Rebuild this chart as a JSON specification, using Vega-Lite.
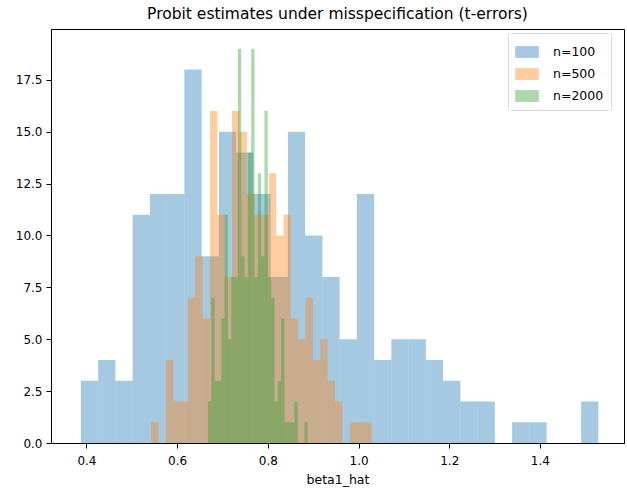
{
  "$schema": "https://vega.github.io/schema/vega-lite/v6.json",
  "width": 573,
  "height": 414,
  "autosize": "none",
  "padding": {"left": 51, "top": 29, "right": 3, "bottom": 47},
  "title": {"text": "Probit estimates under misspecification (t-errors)", "fontSize": 15.5, "fontWeight": "normal", "font": "DejaVu Sans", "color": "black", "offset": 7},
  "config": {
    "font": "DejaVu Sans",
    "view": {"stroke": "black", "strokeWidth": 1},
    "axis": {"domainColor": "black", "tickColor": "black", "labelColor": "black", "titleColor": "black", "tickSize": 5, "labelFontSize": 12, "titleFontSize": 12.5, "titleFontWeight": "normal", "grid": false, "labelPadding": 4}
  },
  "data": {"values": [
    {"n": "n=100", "x0": 0.3877, "x1": 0.4257, "count": 3},
    {"n": "n=100", "x0": 0.4257, "x1": 0.4638, "count": 4},
    {"n": "n=100", "x0": 0.4638, "x1": 0.5018, "count": 3},
    {"n": "n=100", "x0": 0.5018, "x1": 0.5399, "count": 11},
    {"n": "n=100", "x0": 0.5399, "x1": 0.5779, "count": 12},
    {"n": "n=100", "x0": 0.5779, "x1": 0.6159, "count": 12},
    {"n": "n=100", "x0": 0.6159, "x1": 0.6540, "count": 18},
    {"n": "n=100", "x0": 0.6540, "x1": 0.6920, "count": 9},
    {"n": "n=100", "x0": 0.6920, "x1": 0.7301, "count": 15},
    {"n": "n=100", "x0": 0.7301, "x1": 0.7681, "count": 14},
    {"n": "n=100", "x0": 0.7681, "x1": 0.8061, "count": 12},
    {"n": "n=100", "x0": 0.8061, "x1": 0.8442, "count": 8},
    {"n": "n=100", "x0": 0.8442, "x1": 0.8822, "count": 15},
    {"n": "n=100", "x0": 0.8822, "x1": 0.9203, "count": 10},
    {"n": "n=100", "x0": 0.9203, "x1": 0.9583, "count": 8},
    {"n": "n=100", "x0": 0.9583, "x1": 0.9963, "count": 5},
    {"n": "n=100", "x0": 0.9963, "x1": 1.0344, "count": 12},
    {"n": "n=100", "x0": 1.0344, "x1": 1.0724, "count": 4},
    {"n": "n=100", "x0": 1.0724, "x1": 1.1105, "count": 5},
    {"n": "n=100", "x0": 1.1105, "x1": 1.1485, "count": 5},
    {"n": "n=100", "x0": 1.1485, "x1": 1.1865, "count": 4},
    {"n": "n=100", "x0": 1.1865, "x1": 1.2246, "count": 3},
    {"n": "n=100", "x0": 1.2246, "x1": 1.2626, "count": 2},
    {"n": "n=100", "x0": 1.2626, "x1": 1.3007, "count": 2},
    {"n": "n=100", "x0": 1.3387, "x1": 1.3767, "count": 1},
    {"n": "n=100", "x0": 1.3767, "x1": 1.4148, "count": 1},
    {"n": "n=100", "x0": 1.4909, "x1": 1.5289, "count": 2},
    {"n": "n=500", "x0": 0.5427, "x1": 0.5589, "count": 1},
    {"n": "n=500", "x0": 0.5751, "x1": 0.5913, "count": 4},
    {"n": "n=500", "x0": 0.5913, "x1": 0.6075, "count": 2},
    {"n": "n=500", "x0": 0.6075, "x1": 0.6238, "count": 2},
    {"n": "n=500", "x0": 0.6238, "x1": 0.6400, "count": 7},
    {"n": "n=500", "x0": 0.6400, "x1": 0.6562, "count": 9},
    {"n": "n=500", "x0": 0.6562, "x1": 0.6724, "count": 6},
    {"n": "n=500", "x0": 0.6724, "x1": 0.6886, "count": 16},
    {"n": "n=500", "x0": 0.6886, "x1": 0.7048, "count": 11},
    {"n": "n=500", "x0": 0.7048, "x1": 0.7210, "count": 8},
    {"n": "n=500", "x0": 0.7210, "x1": 0.7372, "count": 16},
    {"n": "n=500", "x0": 0.7372, "x1": 0.7534, "count": 15},
    {"n": "n=500", "x0": 0.7534, "x1": 0.7696, "count": 12},
    {"n": "n=500", "x0": 0.7696, "x1": 0.7859, "count": 11},
    {"n": "n=500", "x0": 0.7859, "x1": 0.8021, "count": 11},
    {"n": "n=500", "x0": 0.8021, "x1": 0.8183, "count": 13},
    {"n": "n=500", "x0": 0.8183, "x1": 0.8345, "count": 10},
    {"n": "n=500", "x0": 0.8345, "x1": 0.8507, "count": 11},
    {"n": "n=500", "x0": 0.8507, "x1": 0.8669, "count": 6},
    {"n": "n=500", "x0": 0.8669, "x1": 0.8831, "count": 5},
    {"n": "n=500", "x0": 0.8831, "x1": 0.8993, "count": 7},
    {"n": "n=500", "x0": 0.8993, "x1": 0.9155, "count": 4},
    {"n": "n=500", "x0": 0.9155, "x1": 0.9317, "count": 5},
    {"n": "n=500", "x0": 0.9317, "x1": 0.9480, "count": 3},
    {"n": "n=500", "x0": 0.9480, "x1": 0.9642, "count": 2},
    {"n": "n=500", "x0": 0.9804, "x1": 0.9966, "count": 1},
    {"n": "n=500", "x0": 0.9966, "x1": 1.0128, "count": 1},
    {"n": "n=500", "x0": 1.0128, "x1": 1.0290, "count": 1},
    {"n": "n=2000", "x0": 0.6681, "x1": 0.6754, "count": 2},
    {"n": "n=2000", "x0": 0.6754, "x1": 0.6827, "count": 7},
    {"n": "n=2000", "x0": 0.6827, "x1": 0.6901, "count": 3},
    {"n": "n=2000", "x0": 0.6901, "x1": 0.6974, "count": 3},
    {"n": "n=2000", "x0": 0.6974, "x1": 0.7047, "count": 6},
    {"n": "n=2000", "x0": 0.7047, "x1": 0.7120, "count": 11},
    {"n": "n=2000", "x0": 0.7120, "x1": 0.7193, "count": 5},
    {"n": "n=2000", "x0": 0.7193, "x1": 0.7267, "count": 8},
    {"n": "n=2000", "x0": 0.7267, "x1": 0.7340, "count": 8},
    {"n": "n=2000", "x0": 0.7340, "x1": 0.7413, "count": 19},
    {"n": "n=2000", "x0": 0.7413, "x1": 0.7486, "count": 9},
    {"n": "n=2000", "x0": 0.7486, "x1": 0.7559, "count": 8},
    {"n": "n=2000", "x0": 0.7559, "x1": 0.7633, "count": 14},
    {"n": "n=2000", "x0": 0.7633, "x1": 0.7706, "count": 19},
    {"n": "n=2000", "x0": 0.7706, "x1": 0.7779, "count": 8},
    {"n": "n=2000", "x0": 0.7779, "x1": 0.7852, "count": 13},
    {"n": "n=2000", "x0": 0.7852, "x1": 0.7925, "count": 9},
    {"n": "n=2000", "x0": 0.7925, "x1": 0.7999, "count": 16},
    {"n": "n=2000", "x0": 0.7999, "x1": 0.8072, "count": 8},
    {"n": "n=2000", "x0": 0.8072, "x1": 0.8145, "count": 7},
    {"n": "n=2000", "x0": 0.8145, "x1": 0.8218, "count": 2},
    {"n": "n=2000", "x0": 0.8218, "x1": 0.8291, "count": 3},
    {"n": "n=2000", "x0": 0.8291, "x1": 0.8365, "count": 6},
    {"n": "n=2000", "x0": 0.8365, "x1": 0.8438, "count": 1},
    {"n": "n=2000", "x0": 0.8438, "x1": 0.8511, "count": 1},
    {"n": "n=2000", "x0": 0.8511, "x1": 0.8584, "count": 1},
    {"n": "n=2000", "x0": 0.8584, "x1": 0.8657, "count": 2},
    {"n": "n=2000", "x0": 0.8804, "x1": 0.8877, "count": 1}
  ]},
  "mark": {"type": "bar", "opacity": 0.4, "strokeWidth": 0, "orient": "vertical"},
  "encoding": {
    "x": {"field": "x0", "type": "quantitative", "title": "beta1_hat",
          "scale": {"domain": [0.3328, 1.5744], "nice": false, "zero": false},
          "axis": {"values": [0.4, 0.6, 0.8, 1.0, 1.2, 1.4], "format": ".1f", "labelPadding": 7, "titlePadding": 7}},
    "x2": {"field": "x1"},
    "y": {"field": "count", "type": "quantitative", "stack": null, "title": null,
          "scale": {"domain": [0, 19.95], "nice": false},
          "axis": {"values": [0, 2.5, 5, 7.5, 10, 12.5, 15, 17.5], "format": ".1f"}},
    "y2": {"datum": 0},
    "color": {"field": "n", "type": "nominal",
              "scale": {"domain": ["n=100", "n=500", "n=2000"], "range": ["#1f77b4", "#ff7f0e", "#2ca02c"]},
              "legend": {"title": null, "orient": "none", "legendX": 457, "legendY": 4,
                         "symbolType": "M-1,-0.5H1V0.5H-1Z", "symbolSize": 560, "symbolOpacity": 0.4,
                         "symbolStrokeWidth": 0, "labelFontSize": 12.5, "labelColor": "black",
                         "strokeColor": "#d6d6d6", "fillColor": "white", "padding": 7, "cornerRadius": 3,
                         "rowPadding": 3, "labelOffset": 14}}
  }
}
